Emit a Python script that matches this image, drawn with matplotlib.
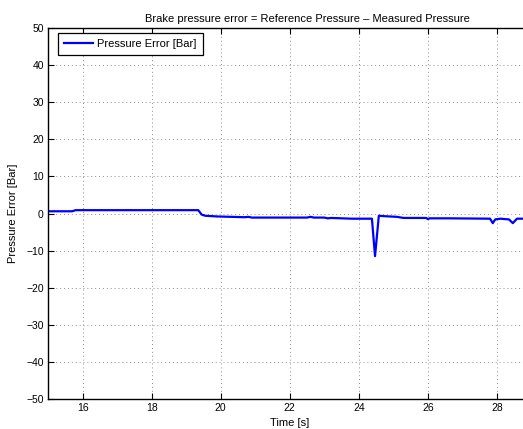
import matplotlib
matplotlib.use("Agg")
import matplotlib.pyplot as plt
import numpy as np

plt.rcParams['font.family'] = ['Liberation Sans', 'DejaVu Sans']
plt.rcParams['axes.unicode_minus'] = True

# Pressure error trace (time in seconds, error in bar)
time_s = [15.0, 15.7, 15.8, 16.0, 17.0, 18.0, 19.35, 19.45, 19.55, 19.9, 20.3, 20.7, 20.8, 20.9,
          21.5, 22.5, 22.6, 22.7, 23.0, 23.1, 23.2, 23.8, 24.38, 24.47, 24.58, 24.7, 25.1,
          25.3, 25.95, 26.0, 26.05, 26.6, 27.8, 27.88, 27.95, 28.1, 28.35, 28.46, 28.58, 28.7, 30.0]
error_bar = [0.6, 0.6, 0.9, 0.9, 0.9, 0.9, 0.9, -0.3, -0.6, -0.8, -0.9, -1.0, -0.9, -1.1,
             -1.1, -1.1, -0.9, -1.1, -1.1, -1.3, -1.2, -1.4, -1.4, -11.5, -0.6, -0.7, -0.9,
             -1.2, -1.2, -1.5, -1.3, -1.3, -1.4, -2.6, -1.6, -1.4, -1.6, -2.6, -1.4, -1.4, -1.4]

x_ticks = [16, 18, 20, 22, 24, 26, 28]
y_ticks = [-50, -40, -30, -20, -10, 0, 10, 20, 30, 40, 50]

fig = plt.figure(figsize=(5.23, 4.29), dpi=100)
ax = fig.add_axes([48 / 523, 30 / 429, 518 / 523, 371 / 429])

ax.plot(time_s, error_bar, color=(0, 0, 1), linewidth=1.6, label='Pressure Error [Bar]')

ax.set_xlim(15, 30)
ax.set_ylim(-50, 50)
ax.set_xticks(x_ticks)
ax.set_yticks(y_ticks)
ax.tick_params(direction='in', length=4, width=0.8, labelsize=7.5,
               top=True, right=True, pad=3)
ax.grid(True, color='0.55', linestyle=(0, (1, 3)), linewidth=0.7)
for s in ax.spines.values():
    s.set_linewidth(1.0)

ax.set_title('Brake pressure error = Reference Pressure \u2013 Measured Pressure',
             fontsize=8, pad=4)
ax.set_xlabel('Time [s]', fontsize=8, labelpad=1)
ax.xaxis.set_label_coords(242 / 518, -0.05)
ax.set_ylabel('Pressure Error [Bar]', fontsize=8, labelpad=6)

leg = ax.legend(loc='upper left', fontsize=8, frameon=True, fancybox=False,
                edgecolor='black', framealpha=1, handlelength=2.6, handletextpad=0.4,
                borderpad=0.55, borderaxespad=0,
                bbox_to_anchor=(10 / 518, 366 / 371))
leg.get_frame().set_linewidth(0.9)

fig.savefig('out.png', dpi=100)
